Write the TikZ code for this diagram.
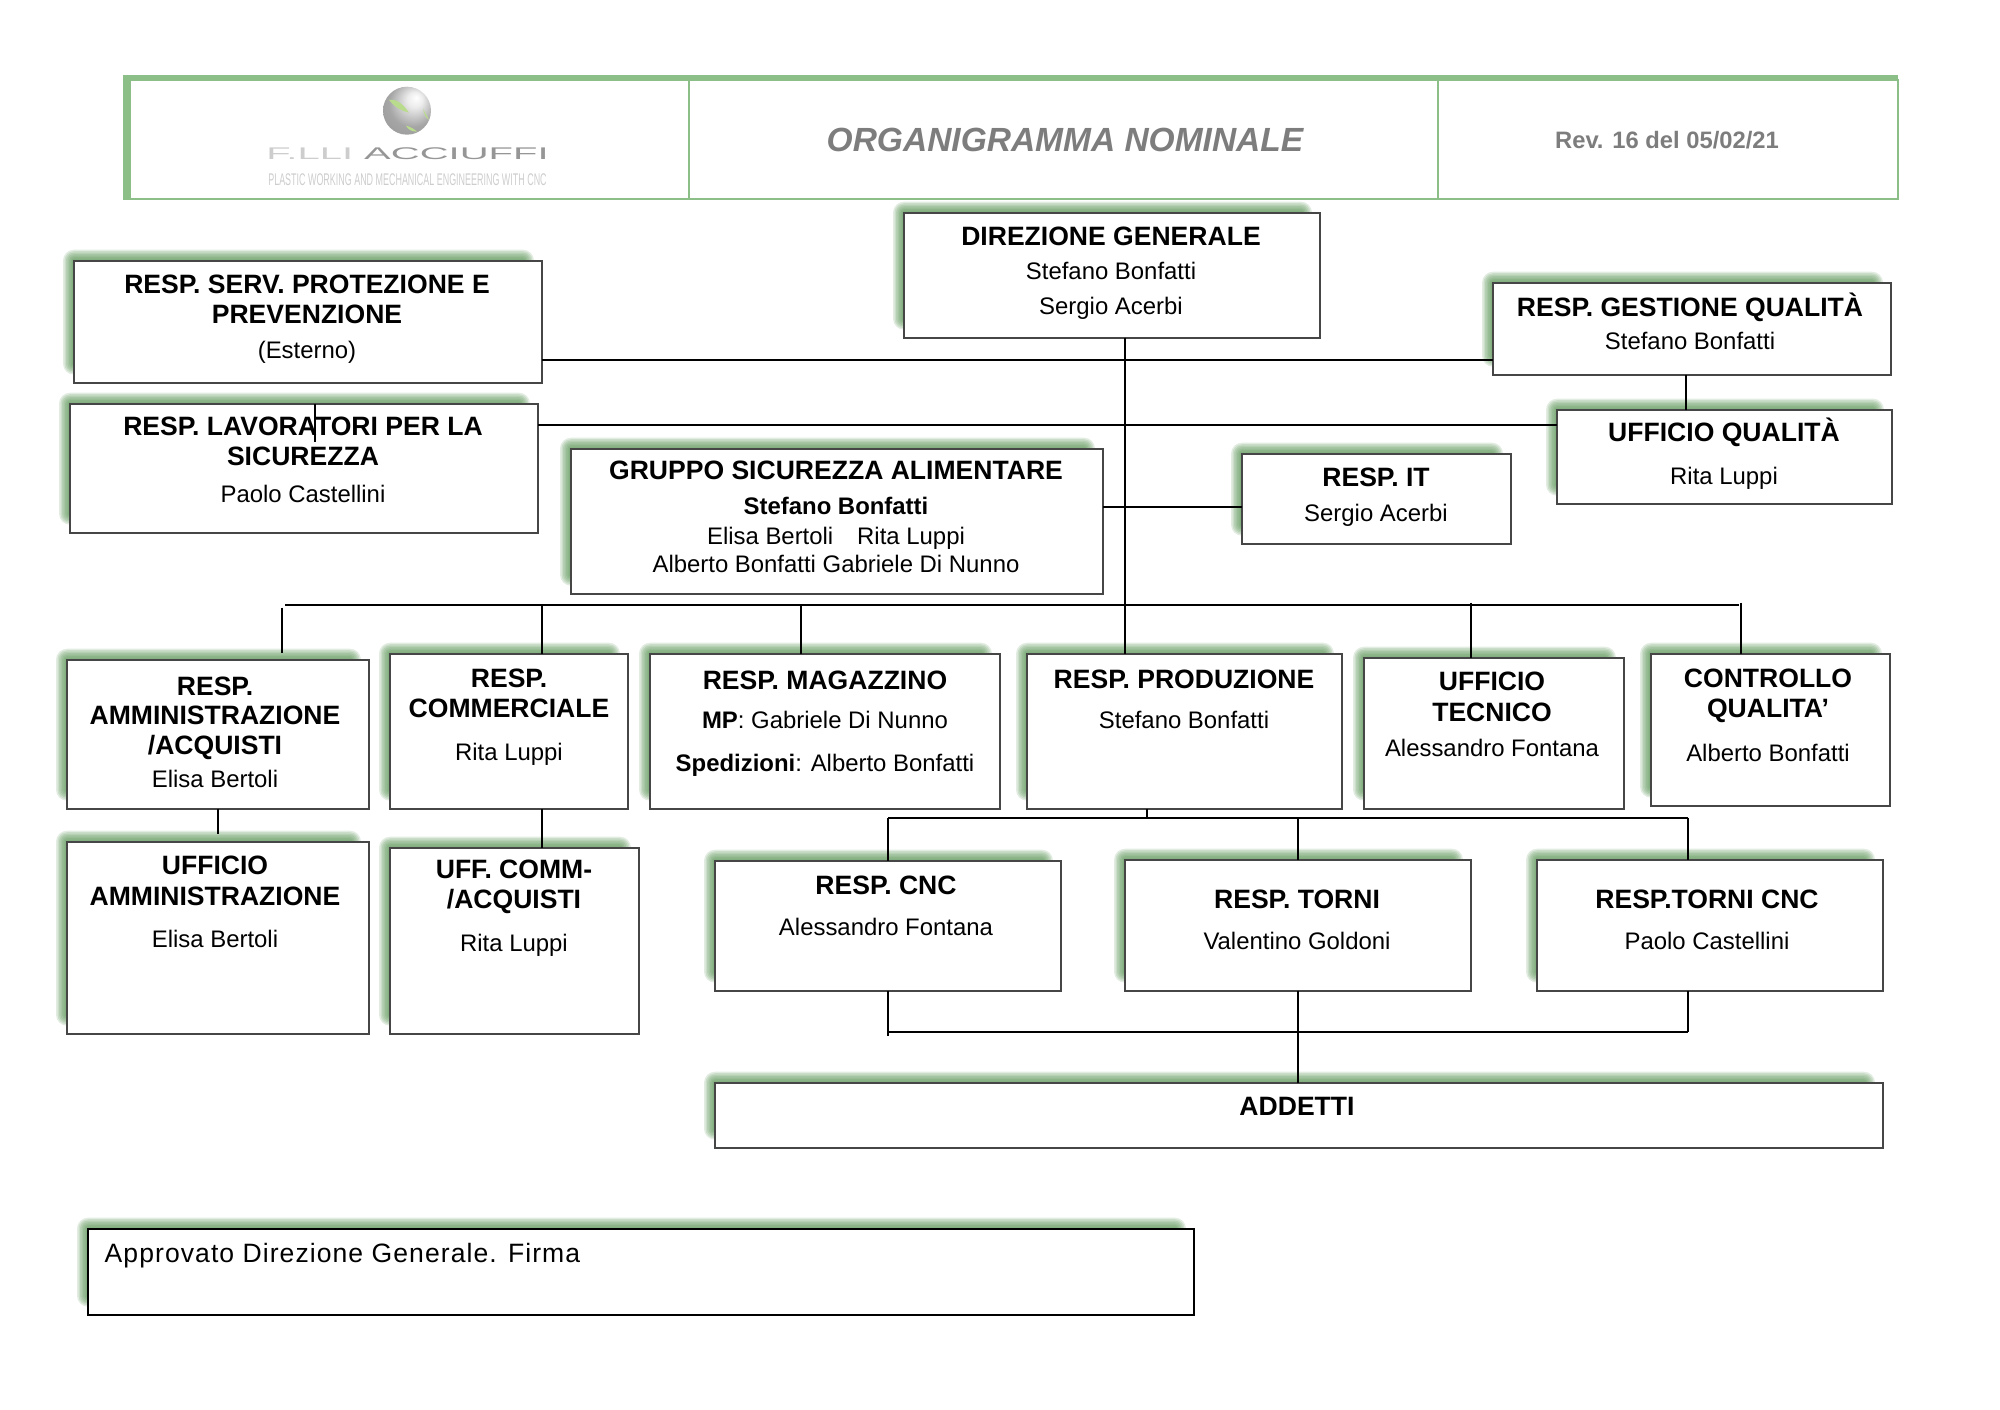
\documentclass[tikz,border=0pt]{standalone}
\usepackage{fontspec}
\usepackage{graphicx}
\setmainfont{Liberation Sans}
\usetikzlibrary{positioning}
\definecolor{headgreen}{RGB}{140,190,135}
\definecolor{glowgreen}{RGB}{85,145,80}
\definecolor{boxgrey}{RGB}{70,70,70}
\definecolor{titlegrey}{RGB}{125,125,125}
\definecolor{logogrey}{RGB}{150,150,150}
\definecolor{logolight}{RGB}{205,205,205}
\definecolor{logoleaf}{RGB}{185,220,140}
\pgfdeclareradialshading{logoball}{\pgfpoint{10bp}{14bp}}{color(0bp)=(white);color(8bp)=(gray!15);color(24bp)=(gray!70);color(50bp)=(gray!90)}
\newcommand{\headfont}{\fontsize{7.55}{8.5}\selectfont\bfseries}
\newcommand{\namefont}{\fontsize{6.8}{8.5}\selectfont\mdseries}
\tikzset{
  resbox/.style={draw=boxgrey, fill=white, line width=0.5pt, inner sep=0pt, outer sep=0pt},
  headcell/.style={draw=headgreen, line width=0.6pt, inner sep=0pt, outer sep=0pt},
  boxtext/.style={anchor=base, align=center, inner sep=0pt, font=\headfont},
  link/.style={draw=black, line width=0.55pt}
}
% box with the green glow on its top and left side: name, x0, y0, x1, y1
\newcommand{\orgbox}[5]{
  \foreach \g in {11,9.5,8,6.5,5,3.5,2,0.5}{
    \fill[glowgreen, opacity=0.17, rounded corners=\g*0.2835pt] ({#2-\g},{#3-\g}) rectangle ({#4-19+\g},{#5-19+\g});
  }
  \node[resbox, minimum width={(#4-#2)*0.01cm}, minimum height={(#5-#3)*0.01cm}] (#1) at ({(#2+#4)/2},{(#3+#5)/2}) {};
}
\begin{document}
\begin{tikzpicture}[x=0.01cm, y=-0.01cm]
  \useasboundingbox (0,-0.7) rectangle (2000,1408.3);

  % Header
  \node[headcell, minimum width=5.59cm, minimum height=1.19cm] (hdrlogo) at (409.5,138.5) {};
  \node[headcell, minimum width=7.485cm, minimum height=1.19cm] (hdrtitle) at (1063.25,138.5) {};
  \node[headcell, minimum width=4.605cm, minimum height=1.19cm] (hdrrev) at (1668,138.5) {};
  \fill[headgreen] (123,74) rectangle (1898,79);
  \fill[headgreen] (123,74) rectangle (130,199);
  \node[anchor=center, font=\fontsize{9.53}{11}\selectfont\bfseries\itshape, text=titlegrey] (hdrtitlet) at (1065,139) {ORGANIGRAMMA NOMINALE};
  \node[anchor=center, font=\fontsize{6.76}{8}\selectfont\bfseries, text=titlegrey] (hdrrevt) at (1667,139) {Rev. 16 del 05/02/21};

  % Logo
  \shade[shading=logoball] (407,110) circle (24);
  \fill[logoleaf] (389,99) .. controls (396,98) and (403,103) .. (409,112) .. controls (401,110) and (394,106) .. (389,99);
  \fill[logoleaf] (423,108) .. controls (425,112) and (427,115) .. (429,119) .. controls (426,118) and (424,113) .. (423,108);
  \fill[logoleaf] (406,125) .. controls (410,126) and (414,128) .. (417,131) .. controls (412,131) and (408,129) .. (406,125);
  \node[inner sep=0pt, font=\fontsize{4.8}{5}\selectfont] (logoname) at (407.5,153) {\scalebox{2.37}[1]{\textcolor{logolight}{F.LLI} \textcolor{logogrey}{ACCIUFFI}}};
  \node[inner sep=0pt, font=\fontsize{4.8}{5}\selectfont] (logotag) at (407.5,179) {\scalebox{0.53}[1]{\textcolor{logolight}{PLASTIC WORKING AND MECHANICAL ENGINEERING WITH CNC}}};

  % Upper boxes
  \orgbox{direzione}{904}{212}{1320}{337}
  \orgbox{prevenzione}{74}{260}{542}{382}
  \orgbox{lavoratori}{70}{403}{538}{532}
  \orgbox{gestione}{1493}{282}{1891}{374}
  \orgbox{uffqualita}{1557}{409}{1892}{503}
  \orgbox{alimentare}{571}{448}{1103}{593}
  \orgbox{respit}{1242}{453}{1511}{543}

  % Second row
  \orgbox{amministrazione}{67}{659}{369}{808}
  \orgbox{commerciale}{390}{653}{628}{808}
  \orgbox{magazzino}{650}{653}{1000}{808}
  \orgbox{produzione}{1027}{653}{1342}{808}
  \orgbox{tecnico}{1364}{657}{1624}{808}
  \orgbox{controllo}{1651}{653}{1890}{805}

  % Third row
  \orgbox{uffammin}{67}{841}{369}{1033}
  \orgbox{uffcomm}{390}{847}{639}{1033}
  \orgbox{respcnc}{715}{860}{1061}{990}
  \orgbox{resptorni}{1125}{859}{1471}{990}
  \orgbox{torcnc}{1537}{859}{1883}{990}
  \orgbox{addetti}{715}{1082}{1883}{1147}
  \orgbox{firma}{88}{1228}{1194}{1314}
  \draw[black, line width=0.6pt] (firma.north west) rectangle (firma.south east);

  % Texts
  \node[boxtext] (direzionet) at (1111,314) {DIREZIONE GENERALE\\[1.4pt]\namefont Stefano Bonfatti\\[1.4pt]\namefont Sergio Acerbi};
  \node[boxtext] (prevenzionet) at (307,358) {RESP. SERV. PROTEZIONE E\\PREVENZIONE\\[1.4pt]\namefont (Esterno)};
  \node[boxtext] (lavoratorit) at (303,502) {RESP. LAVORATORI PER LA\\SICUREZZA\\[2pt]\namefont Paolo Castellini};
  \node[boxtext] (gestionet) at (1690,349) {RESP. GESTIONE QUALITÀ\\[0.85pt]\namefont Stefano Bonfatti};
  \node[boxtext] (uffqualitat) at (1724,484) {UFFICIO QUALITÀ\\[3.7pt]\namefont Rita Luppi};
  \node[boxtext] (alimentaret) at (836,572) {GRUPPO SICUREZZA ALIMENTARE\\[1.4pt]\fontsize{6.8}{8.5}\selectfont Stefano Bonfatti\\\namefont Elisa Bertoli\quad Rita Luppi\\[-0.5pt]\namefont Alberto Bonfatti Gabriele Di Nunno};
  \node[boxtext] (respitt) at (1376,521) {RESP. IT\\[1.4pt]\namefont Sergio Acerbi};
  \node[boxtext] (amministrazionet) at (215,787) {RESP.\\AMMINISTRAZIONE\\/ACQUISTI\\[0.85pt]\namefont Elisa Bertoli};
  \node[boxtext] (commercialet) at (509,760) {RESP.\\COMMERCIALE\\[3.7pt]\namefont Rita Luppi};
  \node[boxtext] (magazzinot) at (825,771) {RESP. MAGAZZINO\\[2.8pt]\namefont \textbf{MP}: Gabriele Di Nunno\\[3.7pt]\namefont \textbf{Spedizioni}: Alberto Bonfatti};
  \node[boxtext] (produzionet) at (1184,728) {RESP. PRODUZIONE\\[2.8pt]\namefont Stefano Bonfatti};
  \node[boxtext] (tecnicot) at (1492,756) {UFFICIO\\[0.5pt]TECNICO\\[1.4pt]\namefont Alessandro Fontana};
  \node[boxtext] (controllot) at (1768,761) {CONTROLLO\\QUALITA’\\[4pt]\namefont Alberto Bonfatti};
  \node[boxtext] (uffammint) at (215,947) {UFFICIO\\[0.5pt]AMMINISTRAZIONE\\[3.4pt]\namefont Elisa Bertoli};
  \node[boxtext] (uffcommt) at (514,951) {UFF. COMM-\\/ACQUISTI\\[3.7pt]\namefont Rita Luppi};
  \node[boxtext] (respcnct) at (886,935) {RESP. CNC\\[3.1pt]\namefont Alessandro Fontana};
  \node[boxtext] (resptornit) at (1297,949) {RESP. TORNI\\[3.1pt]\namefont Valentino Goldoni};
  \node[boxtext] (torcnct) at (1707,949) {RESP.TORNI CNC\\[3.1pt]\namefont Paolo Castellini};
  \node[boxtext] (addettit) at (1297,1115) {ADDETTI};
  \node[anchor=base west, inner sep=0pt, font=\fontsize{7.55}{9}\selectfont\addfontfeature{LetterSpace=4}] (firmat) at (104,1262) {Approvato Direzione Generale. Firma};

  % Connectors
  \coordinate (trunk) at (1125,604);
  \coordinate (busleft) at (285,604);
  \coordinate (busright) at (1739,604);
  \coordinate (spplink) at (1125,359);
  \coordinate (lavlink) at (1125,424);
  \coordinate (itlink) at (1125,506);
  \coordinate (lavtick) at (315,441);
  \coordinate (admtop) at (282,607);
  \coordinate (admend) at (282,652);
  \coordinate (admdown) at (218,833);
  \coordinate (comx) at (542,604);
  \coordinate (magx) at (801,604);
  \coordinate (tecx) at (1471,602);
  \coordinate (conx) at (1741,602);
  \coordinate (qualx) at (1686,374);
  \coordinate (prodbus) at (1147,817);
  \coordinate (cncup) at (888,817);
  \coordinate (tornup) at (1298,817);
  \coordinate (tcnup) at (1688,817);
  \coordinate (lowbus) at (888,1031);
  \coordinate (lowtick) at (888,1035);

  \draw[link] (trunk |- direzione.south) -- (trunk |- produzione.north);
  \draw[link] (prevenzione.east |- spplink) -- (gestione.west |- spplink);
  \draw[link] (lavoratori.east |- lavlink) -- (uffqualita.west |- lavlink);
  \draw[link] (alimentare.east |- itlink) -- (respit.west |- itlink);
  \draw[link] (qualx |- gestione.south) -- (qualx |- uffqualita.north);
  \draw[link, line width=0.4pt] (lavtick |- lavoratori.north) -- (lavtick);
  \draw[link] (busleft) -- (busright);
  \draw[link] (admtop) -- (admend);
  \draw[link] (comx) -- (comx |- commerciale.north);
  \draw[link] (magx) -- (magx |- magazzino.north);
  \draw[link] (tecx) -- (tecx |- tecnico.north);
  \draw[link] (conx) -- (conx |- controllo.north);
  \draw[link] (admdown |- amministrazione.south) -- (admdown);
  \draw[link] (comx |- commerciale.south) -- (comx |- uffcomm.north);
  \draw[link] (prodbus |- produzione.south) -- (prodbus);
  \draw[link] (cncup) -- (tcnup);
  \draw[link] (cncup) -- (cncup |- respcnc.north);
  \draw[link] (tornup) -- (tornup |- resptorni.north);
  \draw[link] (tcnup) -- (tcnup |- torcnc.north);
  \draw[link] (cncup |- respcnc.south) -- (lowtick);
  \draw[link] (lowbus) -- (tcnup |- lowbus);
  \draw[link] (tcnup |- torcnc.south) -- (tcnup |- lowbus);
  \draw[link] (tornup |- resptorni.south) -- (tornup |- addetti.north);
\end{tikzpicture}
\end{document}
